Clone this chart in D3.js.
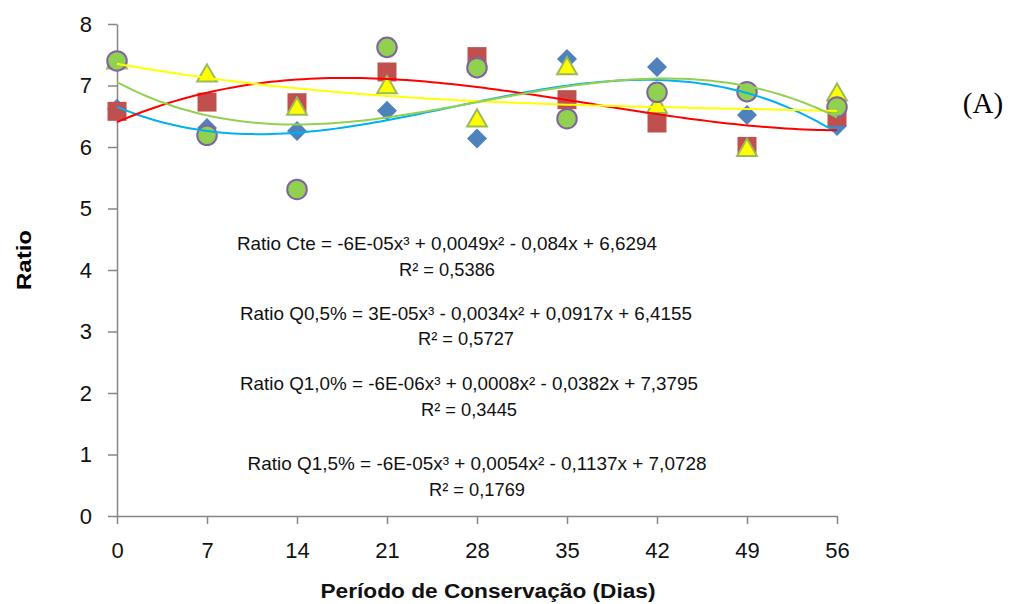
<!DOCTYPE html>
<html>
<head>
<meta charset="utf-8">
<script src="https://cdn.jsdelivr.net/npm/d3@7"></script>
<style>
  body { margin: 0; background: #fff; }
  svg { display: block; }
  .axis path, .axis line { stroke: #868686; stroke-width: 1.5; }
  .axis text { font-family: "Liberation Sans Narrow", "Liberation Sans", sans-serif; font-size: 22px; fill: #111; }
</style>
</head>
<body>
<svg width="1014" height="604"></svg>
<script>
// days of storage
var days = [0, 7, 14, 21, 28, 35, 42, 49, 56];
var yTicks = [0, 1, 2, 3, 4, 5, 6, 7, 8];

// ratio values per treatment
var cte  = [6.62, 6.31, 6.26, 6.59, 6.14, 7.43, 7.30, 6.52, 6.34];
var q05  = [6.58, 6.73, 6.72, 7.22, 7.47, 6.77, 6.39, 6.01, 6.50];
var q10  = [7.40, 7.19, 6.65, 7.00, 6.46, 7.31, 6.68, 5.98, 6.88];
var q15  = [7.40, 6.19, 5.31, 7.62, 7.29, 6.46, 6.89, 6.90, 6.65];

var equations = [
    ["Ratio Cte = -6E-05x\u00B3 + 0,0049x\u00B2 - 0,084x + 6,6294", "R\u00B2 = 0,5386"],
    ["Ratio Q0,5% = 3E-05x\u00B3 - 0,0034x\u00B2 + 0,0917x + 6,4155", "R\u00B2 = 0,5727"],
    ["Ratio Q1,0% = -6E-06x\u00B3 + 0,0008x\u00B2 - 0,0382x + 7,3795", "R\u00B2 = 0,3445"],
    ["Ratio Q1,5% = -6E-05x\u00B3 + 0,0054x\u00B2 - 0,1137x + 7,0728", "R\u00B2 = 0,1769"]
];

var svg = d3.select("svg");

var xScale = d3.scaleLinear().domain([0, 56]).range([117, 837]);
var yScale = d3.scaleLinear().domain([0, 8]).range([516, 24]);

// least squares cubic, same thing the spreadsheet trendline does
function cubicFit(xs, ys){
    var n = 4, A = [], i, j, k;
    for (i = 0; i < n; i++){
        A.push([]);
        for (j = 0; j < n; j++){
            var s = 0;
            xs.forEach(function(x){ s += Math.pow(x, i + j); });
            A[i].push(s);
        }
        var b = 0;
        xs.forEach(function(x, m){ b += ys[m] * Math.pow(x, i); });
        A[i].push(b);
    }
    for (i = 0; i < n; i++){
        var p = i;
        for (k = i + 1; k < n; k++) if (Math.abs(A[k][i]) > Math.abs(A[p][i])) p = k;
        var t = A[i]; A[i] = A[p]; A[p] = t;
        for (k = i + 1; k < n; k++){
            var f = A[k][i] / A[i][i];
            for (j = i; j <= n; j++) A[k][j] -= f * A[i][j];
        }
    }
    var c = [0, 0, 0, 0];
    for (i = n - 1; i >= 0; i--){
        var s2 = A[i][n];
        for (j = i + 1; j < n; j++) s2 -= A[i][j] * c[j];
        c[i] = s2 / A[i][i];
    }
    return function(x){ return c[0] + c[1]*x + c[2]*x*x + c[3]*x*x*x; };
}

// diamond = square turned 45deg
var series = [
    {vals: cte, shape: d3.symbolSquare, size: 200, rot: 45, dy: 0, fill: "#4F81BD", stroke: "none", line: "#00B0F0"},
    {vals: q05, shape: d3.symbolSquare, size: 360, rot: 0, dy: 0, fill: "#C0504D", stroke: "none", line: "#FF0000"},
    {vals: q10, shape: d3.symbolTriangle, size: 170, rot: 0, dy: 2, fill: "#FFFF00", stroke: "#9BBB59", line: "#FFFF00"},
    {vals: q15, shape: d3.symbolCircle, size: 300, rot: 0, dy: 0, fill: "#92D050", stroke: "#8064A2", line: "#92D050"}
];

// axes
svg.append("g").attr("class", "axis")
    .attr("transform", "translate(0,516)")
    .call(d3.axisBottom(xScale).tickValues(days).tickSize(8).tickPadding(18).tickSizeOuter(0));
var yAxis = svg.append("g").attr("class", "axis")
    .attr("transform", "translate(117,0)")
    .call(d3.axisLeft(yScale).tickValues(yTicks).tickSize(8).tickPadding(17).tickSizeOuter(0));
yAxis.selectAll("line").attr("x2", -9);

// markers
series.forEach(function(s){
    svg.append("g").selectAll("path")
        .data(s.vals)
        .enter()
        .append("path")
        .attr("transform", function(d, i){
            return "translate(" + xScale(days[i]) + "," + (yScale(d) + s.dy) + ") rotate(" + s.rot + ")";
        })
        .attr("d", d3.symbol().type(s.shape).size(s.size))
        .attr("fill", s.fill)
        .attr("stroke", s.stroke)
        .attr("stroke-width", 2);
});

// trendlines on top
var line = d3.line().x(function(d){ return xScale(d[0]); }).y(function(d){ return yScale(d[1]); });
series.forEach(function(s){
    var f = cubicFit(days, s.vals);
    var pts = d3.range(0, 56.01, 0.5).map(function(x){ return [x, f(x)]; });
    svg.append("path")
        .attr("d", line(pts))
        .attr("fill", "none")
        .attr("stroke", s.line)
        .attr("stroke-width", 2);
});

// equations
var eqPos = [[447, 250, 276], [466, 320, 345], [469, 390, 416], [477, 470, 496]];
var eqLen = [420, 452, 458, 459];
equations.forEach(function(e, i){
    svg.append("text")
        .attr("x", eqPos[i][0]).attr("y", eqPos[i][1])
        .attr("text-anchor", "middle")
        .attr("textLength", eqLen[i]).attr("lengthAdjust", "spacingAndGlyphs")
        .style("font-family", "Liberation Sans, sans-serif").style("font-size", "18.5px").style("fill", "#111")
        .text(e[0]);
    svg.append("text")
        .attr("x", eqPos[i][0]).attr("y", eqPos[i][2])
        .attr("text-anchor", "middle")
        .attr("textLength", 96).attr("lengthAdjust", "spacingAndGlyphs")
        .style("font-family", "Liberation Sans, sans-serif").style("font-size", "18.5px").style("fill", "#111")
        .text(e[1]);
});

// titles
svg.append("text")
    .attr("transform", "translate(31,260) rotate(-90)")
    .attr("text-anchor", "middle")
    .attr("textLength", 60).attr("lengthAdjust", "spacingAndGlyphs")
    .style("font-family", "Liberation Sans, sans-serif").style("font-size", "20px").style("font-weight", "bold")
    .text("Ratio");

svg.append("text")
    .attr("x", 488).attr("y", 598)
    .attr("text-anchor", "middle")
    .attr("textLength", 335).attr("lengthAdjust", "spacingAndGlyphs")
    .style("font-family", "Liberation Sans, sans-serif").style("font-size", "20px").style("font-weight", "bold")
    .style("fill", "#111")
    .text("Período de Conservação (Dias)");

svg.append("text")
    .attr("x", 983).attr("y", 113)
    .attr("text-anchor", "middle")
    .style("font-family", "Liberation Serif, serif").style("font-size", "29px")
    .text("(A)");
</script>
</body>
</html>
